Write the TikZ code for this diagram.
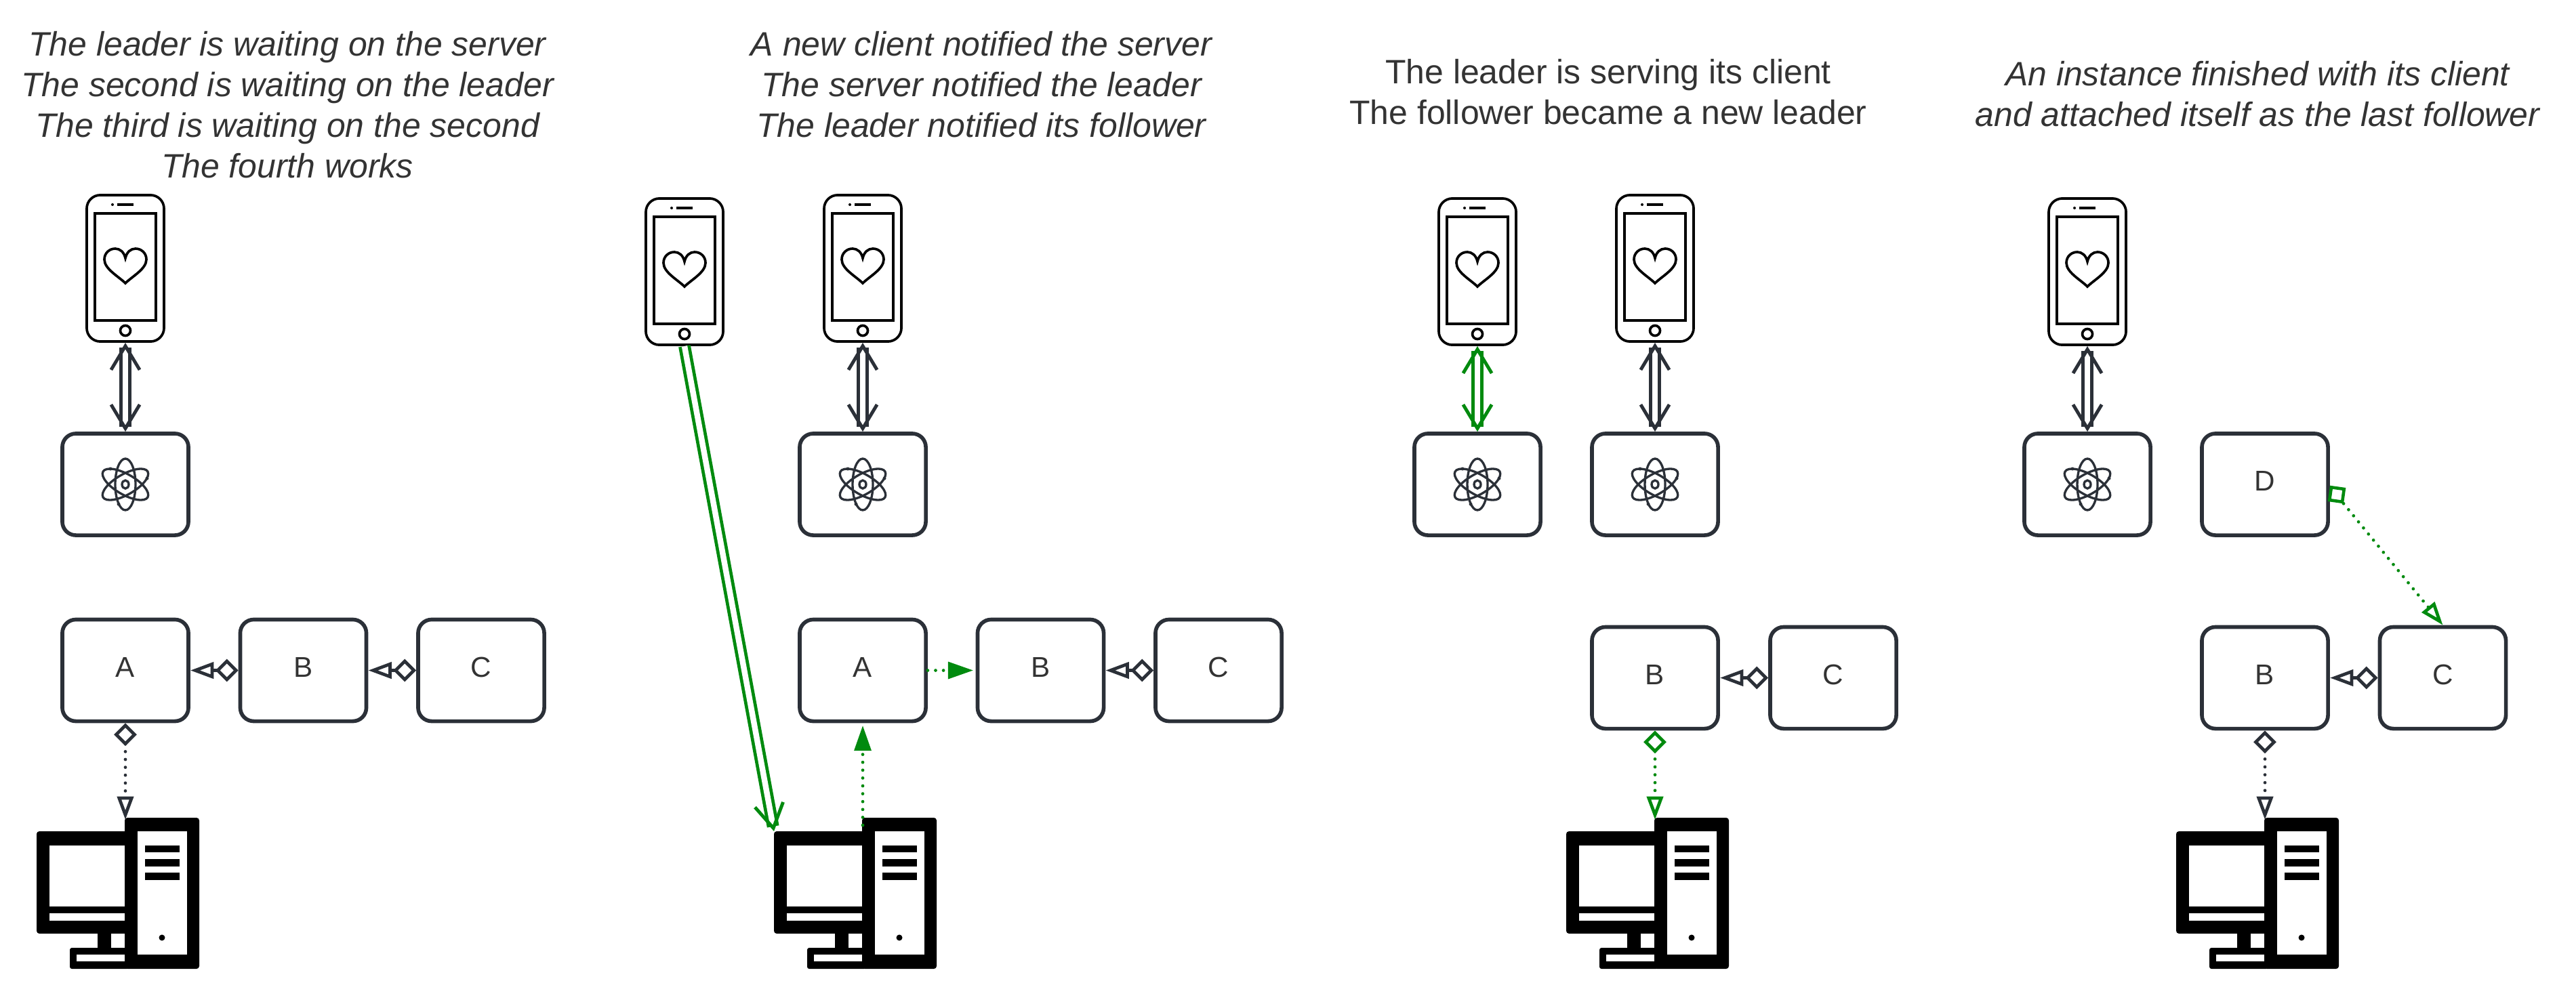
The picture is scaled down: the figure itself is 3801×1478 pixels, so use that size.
\documentclass[tikz,border=0pt]{standalone}
\usepackage{fontspec}
\setmainfont{Liberation Sans}
\usetikzlibrary{arrows.meta}
\definecolor{inkcol}{HTML}{2B3038}
\definecolor{textcol}{HTML}{333333}
\definecolor{greencol}{HTML}{008A0E}
\tikzset{
  barbtip/.tip={Straight Barb[length=10pt,width=12pt,line width=1.4pt]},
  diatip/.tip={Diamond[open,length=9.6pt,width=9.6pt,line width=1.35pt]},
  tritip/.tip={Triangle[open,length=9.8pt,width=6.8pt,line width=1.35pt]},
  fulltip/.tip={Triangle[length=10.6pt,width=7pt]}}
\tikzstyle{box}=[draw=inkcol,line width=1.6pt,rounded corners=0.2cm,minimum width=1.86cm,
                 minimum height=1.5cm,inner sep=0,text=textcol,text height=8.4pt,text depth=3pt,
                 font=\fontsize{12}{13}\selectfont]
\tikzstyle{caption}=[anchor=north,inner sep=0,align=center,text=textcol,
                     font=\fontsize{14.2}{17}\selectfont]
\tikzstyle{italiccaption}=[caption,font=\fontsize{14.2}{17}\selectfont\itshape]
\tikzstyle{channel}=[barbtip-barbtip,draw=inkcol,line width=1.35pt,double=white,double distance=2.4pt]
\tikzstyle{newchannel}=[-barbtip,draw=greencol,line width=1.35pt,double=white,double distance=2.4pt]
\tikzstyle{dots}=[line width=1.35pt,line cap=round,dash pattern=on 0pt off 3.3pt]
\tikzstyle{chain}=[diatip-tritip,inkcol,line width=1.35pt]
\tikzstyle{wait}=[diatip-tritip,inkcol,dots]
\tikzstyle{notify}=[-fulltip,greencol,dots,shorten >=1pt]
\tikzset{
  pics/phone/.style={code={
    \node[draw=black,line width=1.05pt,rounded corners=0.2cm,minimum width=1.14cm,
          minimum height=2.16cm,inner sep=0] (-body) at (0,0) {};
    \draw[black,line width=1.05pt] (-45,-81) rectangle (45,77);
    \draw[black,line width=1.1pt] (-12,-94) -- (12,-94);
    \fill[black] (-19,-94) circle (2);
    \draw[black,line width=1.05pt] (0,92) circle (7.5);
    \draw[black,line width=1.05pt] (0,22) .. controls (-10,12) and (-31,1) .. (-31,-13)
      .. controls (-31,-23) and (-23,-29) .. (-15,-29)
      .. controls (-8,-29) and (-2,-24) .. (0,-15)
      .. controls (2,-24) and (8,-29) .. (15,-29)
      .. controls (23,-29) and (31,-23) .. (31,-13)
      .. controls (31,1) and (10,12) .. (0,22) -- cycle;
  }},
  pics/atom/.style={code={
    \foreach \ang in {0,60,120}{
      \draw[inkcol,line width=0.95pt,rotate=\ang] (0,0) ellipse (15 and 38);
    }
    \draw[inkcol,line width=0.95pt] (0,0) ellipse (5 and 6);
    \fill[inkcol] (-22,-23) circle (2.5) (32,-9) circle (2.5) (-10,29) circle (2.5);
  }},
  pics/computer/.style={code={
    \node[minimum width=2.4cm,minimum height=2.23cm,inner sep=0] (-body) at (-11,111.5) {};
    \coordinate (-top) at (0,3);
    \coordinate (-corner) at (-131,20);
    % CASES
    \fill[black,rounded corners=0.04cm] (-1,0) rectangle (109,223);
    \fill[black,rounded corners=0.04cm] (-131,20) rectangle (10,171);
    \fill[black] (-41,165) rectangle (-21,195);
    \fill[black,rounded corners=0.03cm] (-82,192) -- (-82,223) -- (5,223) -- (5,192) -- cycle;
    % WHITE PARTS
    \fill[white] (-112,40.5) rectangle (-1,131);
    \fill[white] (-112,140.5) rectangle (-1,152);
    \fill[white] (-72,202) rectangle (-1,212);
    \fill[white] (18,20) rectangle (91,202);
    % TOWER DETAILS
    \foreach \y in {40.5,61,81}{
      \fill[black] (29,\y) rectangle (79.5,\y+10.5);
    }
    \fill[black] (54,177) circle (4.5);
  }}
}
\begin{document}
\begin{tikzpicture}[x=0.01cm,y=-0.01cm]
  \useasboundingbox (0,0) rectangle (3801,1478);

  % CAPTIONS
  \node[italiccaption] (Cap1) at (424,46)
    {The leader is waiting on the server\\The second is waiting on the leader\\
     The third is waiting on the second\\The fourth works};
  \node[italiccaption] (Cap2) at (1448,46)
    {A new client notified the server\\The server notified the leader\\
     The leader notified its follower};
  \node[caption] (Cap3) at (2373,87)
    {The leader is serving its client\\The follower became a new leader};
  \node[italiccaption] (Cap4) at (3331,90)
    {An instance finished with its client\\and attached itself as the last follower};

  % BOXES
  \foreach \nm/\x/\y/\txt in {Ld1/185/715/,A1/185/989.5/A,B1/447.5/989.5/B,C1/710/989.5/C,
      Ld2/1273/715/,A2/1273/989.5/A,B2/1535.5/989.5/B,C2/1798/989.5/C,
      LdA3/2180/715/,LdB3/2442/715/,B3/2442/1000.5/B,C3/2705/1000.5/C,
      Ld4/3080/715/,D4/3342/715/D,B4/3342/1000.5/B,C4/3604.5/1000.5/C}{
    \node[box] (\nm) at (\x,\y) {\txt};
  }
  \foreach \nm in {Ld1,Ld2,LdA3,LdB3,Ld4}{
    \pic at (\nm) {atom};
  }

  % PHONES
  \foreach \nm/\x/\y in {Ph1/185/396,PhNew2/1010/401,Ph2/1273/396,PhA3/2180/401,
      PhB3/2442/396,Ph4/3080/401}{
    \pic (\nm) at (\x,\y) {phone};
  }

  % COMPUTERS
  \foreach \nm/\x in {PC1/185,PC2/1273,PC3/2442,PC4/3342}{
    \pic (\nm) at (\x,1207) {computer};
  }

  % CHANNELS
  \draw[channel] (Ph1-body.south) -- (Ld1.north);
  \draw[channel] (Ph2-body.south) -- (Ld2.north);
  \draw[channel,draw=greencol] (PhA3-body.south) -- (LdA3.north);
  \draw[channel] (PhB3-body.south) -- (LdB3.north);
  \draw[channel] (Ph4-body.south) -- (Ld4.north);
  \draw[newchannel] (PhNew2-body.south) -- (PC2-corner);

  % FOLLOWERS
  \draw[chain] (B1.west) -- (A1.east);
  \draw[chain] (C1.west) -- (B1.east);
  \draw[chain] (C2.west) -- (B2.east);
  \draw[chain] (C3.west) -- (B3.east);
  \draw[chain] (C4.west) -- (B4.east);

  % WAITING ON THE SERVER
  \draw[wait] (A1.south) -- (PC1-top);
  \draw[wait,greencol] (B3.south) -- (PC3-top);
  \draw[wait] (B4.south) -- (PC4-top);

  % NOTIFICATIONS
  \draw[notify] ([yshift=-0.08cm]PC2-top) -- (A2.south);
  \draw[notify] (A2.east) -- (B2.west);
  \node[draw=greencol,line width=1.3pt,minimum size=0.19cm,inner sep=0,rotate=-8] (Sq4) at (3448,730) {};
  \draw[-tritip,greencol,dots] (Sq4.south east) -- (C4.north);
\end{tikzpicture}
\end{document}
